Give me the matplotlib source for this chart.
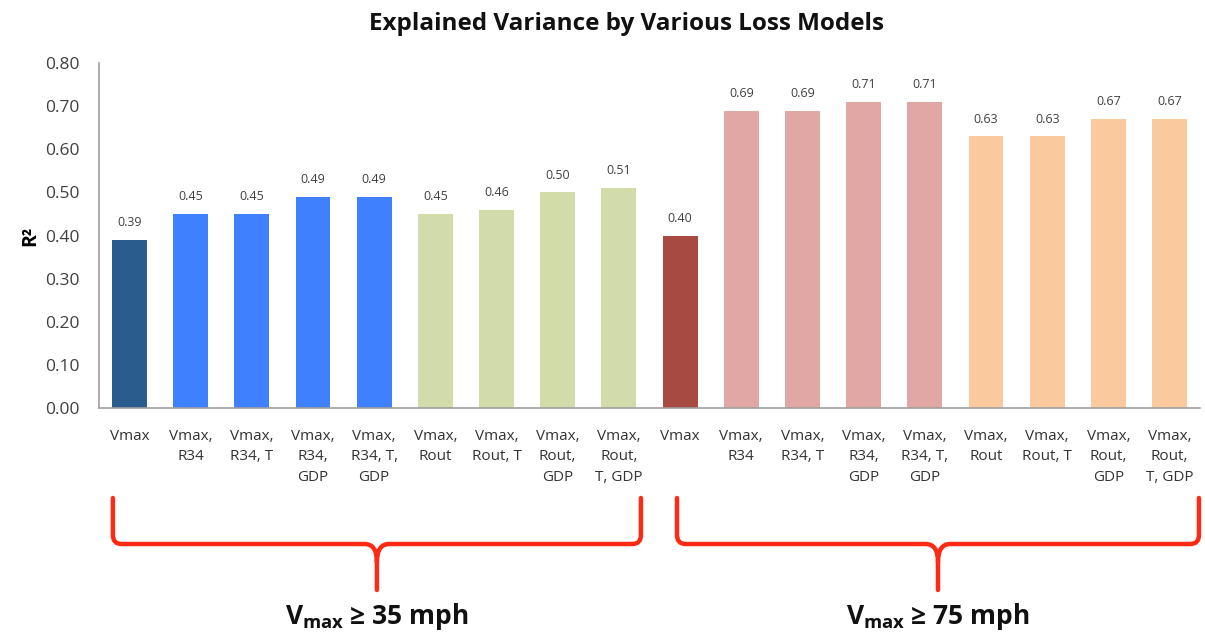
import numpy as np
import matplotlib
matplotlib.use('Agg')
import matplotlib.pyplot as plt
from matplotlib.path import Path
from matplotlib.patches import PathPatch
from matplotlib.transforms import blended_transform_factory

plt.rcParams['font.family'] = ['Open Sans', 'DejaVu Sans']
plt.rcParams['mathtext.fontset'] = 'custom'
plt.rcParams['mathtext.rm'] = 'Open Sans'
plt.rcParams['mathtext.bf'] = 'Open Sans:bold'

labels = ['Vmax', 'Vmax,\nR34', 'Vmax,\nR34, T', 'Vmax,\nR34,\nGDP', 'Vmax,\nR34, T,\nGDP',
          'Vmax,\nRout', 'Vmax,\nRout, T', 'Vmax,\nRout,\nGDP', 'Vmax,\nRout,\nT, GDP']
r2_35 = [0.39, 0.45, 0.45, 0.49, 0.49, 0.45, 0.46, 0.50, 0.51]
r2_75 = [0.40, 0.69, 0.69, 0.71, 0.71, 0.63, 0.63, 0.67, 0.67]
colors_35 = ['#2A5C8E'] + ['#3F80FF'] * 4 + ['#D2DCAA'] * 4
colors_75 = ['#A64A42'] + ['#E0A7A5'] * 4 + ['#FBC99E'] * 4
groups = ['35', '75']

values = r2_35 + r2_75
cats = labels + labels
colors = colors_35 + colors_75
x = np.arange(len(values))

fig = plt.figure(figsize=(12.05, 6.38), dpi=100)
ax = fig.add_axes([0.082, 0.3605, 0.914, 0.5405])

ax.bar(x, values, width=0.57, color=colors)
for xi, v in zip(x, values):
    ax.text(xi, v + 0.025, f'{v:.2f}', ha='center', va='bottom', fontsize=9, color='#404040')

ax.set_xlim(-0.5, len(values) - 0.5)
ax.set_ylim(0, 0.8)
ax.set_yticks(np.arange(0, 0.81, 0.1))
ax.set_yticklabels([f'{t:.2f}' for t in np.arange(0, 0.81, 0.1)])
ax.set_xticks(x)
ax.set_xticklabels(cats, fontsize=11, color='#333333', linespacing=1.5, va='top')
ax.tick_params(axis='both', length=0)
ax.tick_params(axis='y', labelsize=12.5, colors='#404040', pad=14)
ax.tick_params(axis='x', pad=15)
for s in ['top', 'right']:
    ax.spines[s].set_visible(False)
for s in ['left', 'bottom']:
    ax.spines[s].set_color('#A0A0A0')
    ax.spines[s].set_linewidth(1.2)

ax.set_ylabel('R²', fontsize=14, fontweight='bold', labelpad=3)
fig.text(0.52, 0.963, 'Explained Variance by Various Loss Models', ha='center', va='center',
         fontsize=17.5, fontweight='bold', color='#111111')

# red curly brackets under each group
tr = blended_transform_factory(ax.transData, fig.transFigure)
def fy(py):
    return 1 - py / 638.0

def bracket(x0, x1):
    xc = (x0 + x1) / 2
    ytop, yh, ysp, ybot = fy(498), fy(544), fy(562), fy(590)
    r = 0.14
    ry = 9 / 638.0
    w = 0.2
    verts = [(x0, ytop), (x0, yh + ry), (x0, yh), (x0 + r, yh),
             (xc - w, yh), (xc, yh), (xc, ysp), (xc, ybot),
             (xc, ysp), (xc, yh), (xc + w, yh),
             (x1 - r, yh), (x1, yh), (x1, yh + ry), (x1, ytop)]
    codes = [Path.MOVETO, Path.LINETO, Path.CURVE3, Path.CURVE3,
             Path.LINETO, Path.CURVE3, Path.CURVE3, Path.LINETO,
             Path.MOVETO, Path.CURVE3, Path.CURVE3,
             Path.LINETO, Path.CURVE3, Path.CURVE3, Path.LINETO]
    ax.add_patch(PathPatch(Path(verts, codes), transform=tr, fill=False,
                           edgecolor='#FF2A14', linewidth=3.2, clip_on=False,
                           capstyle='round', joinstyle='round'))
    return xc

n = len(labels)
centres = [bracket(-0.27, n - 1 + 0.36), bracket(n - 0.05, 2 * n - 1 + 0.48)]
for xc, g in zip(centres, groups):
    ax.text(xc, fy(617), r'$\mathbf{V_{max}}$ ≥ ' + g + ' mph', transform=tr, ha='center',
            va='center', fontsize=19, fontweight='bold', color='#111111')

fig.savefig('out.png', dpi=100)
